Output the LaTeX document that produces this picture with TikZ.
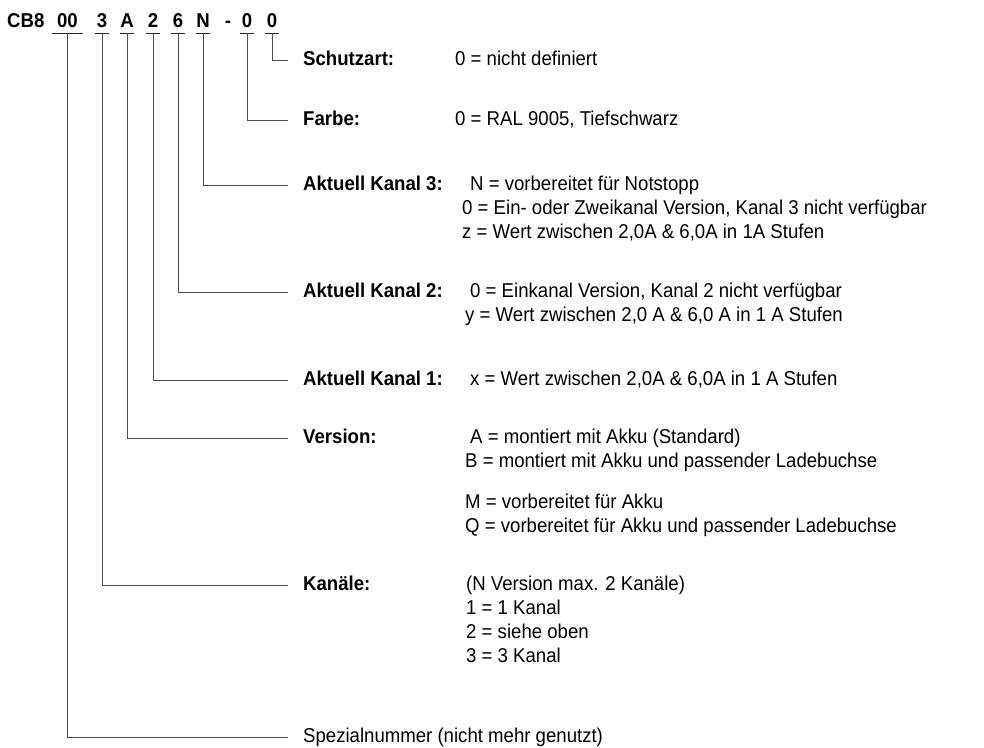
\documentclass[tikz,border=0pt]{standalone}
\usepackage{fontspec}
\setmainfont{Liberation Sans}[FakeStretch=0.93]
\usepackage{tikz}
\usetikzlibrary{positioning,calc}

\begin{document}
\begin{tikzpicture}[x=1pt,y=-1pt,
		code/.style={font=\fontsize{20}{24}\selectfont\bfseries,inner sep=0pt,minimum height=26pt,minimum width=14pt,text height=14pt,text depth=0pt},
		title/.style={font=\fontsize{20}{24}\selectfont\bfseries,anchor=west,inner ysep=0pt,inner xsep=15pt,text height=14pt,text depth=4pt},
		plain/.style={font=\fontsize{20}{24}\selectfont,anchor=west,inner ysep=0pt,inner xsep=15pt,text height=14pt,text depth=4pt},
		val/.style={font=\fontsize{20}{24}\selectfont,anchor=west,inner sep=0pt,text height=14pt,text depth=4pt},
		conn/.style={draw=black!70,line width=0.9pt},
		uline/.style={draw=black!85,line width=1.1pt}]
		\useasboundingbox (0,0) rectangle (984,747);
		%\draw (0,0) grid (984,747);
		% type code
		\node[code,anchor=west] (cb) at (7,20) {CB8};
		\node[code,minimum width=31pt] (c00) at (67.5,20) {00};
		\node[code] (c3) at (102,20) {3};
		\node[code] (cA) at (127,20) {A};
		\node[code] (c2) at (153,20) {2};
		\node[code] (c6) at (178,20) {6};
		\node[code] (cN) at (203,20) {N};
		\node[code] (cdash) at (228,20) {-};
		\node[code] (cF) at (247,20) {0};
		\node[code] (cS) at (272,20) {0};
		\foreach \c in {c00,c3,cA,c2,c6,cN,cF,cS}
			\draw[uline] (\c.south west) -- (\c.south east);
		% headings
		\node[title] (schutz) at (288,60) {Schutzart:};
		\node[title] (farbe) at (288,120) {Farbe:};
		\node[title] (kanal3) at (288,185) {Aktuell Kanal 3:};
		\node[title] (kanal2) at (288,292) {Aktuell Kanal 2:};
		\node[title] (kanal1) at (288,380) {Aktuell Kanal 1:};
		\node[title] (version) at (288,438) {Version:};
		\node[title] (kanaele) at (288,585) {Kanäle:};
		\node[plain] (spezial) at (288,737) {Spezialnummer (nicht mehr genutzt)};
		% values
		\node[val] (s0) at (455,60) {0 = nicht definiert};
		\node[val] (f0) at (455,120) {0 = RAL 9005, Tiefschwarz};
		\node[val] (k3a) at (470,185) {N = vorbereitet für Notstopp};
		\node[val] (k3b) at (462,209) {0 = Ein- oder Zweikanal Version, Kanal 3 nicht verfügbar};
		\node[val] (k3c) at (462,233) {z = Wert zwischen 2,0A \& 6,0A in 1A Stufen};
		\node[val] (k2a) at (470,292) {0 = Einkanal Version, Kanal 2 nicht verfügbar};
		\node[val] (k2b) at (465,316) {y = Wert zwischen 2,0 A \& 6,0 A in 1 A Stufen};
		\node[val] (k1a) at (470,380) {x = Wert zwischen 2,0A \& 6,0A in 1 A Stufen};
		\node[val] (va) at (470,438) {A = montiert mit Akku (Standard)};
		\node[val] (vb) at (465,462) {B = montiert mit Akku und passender Ladebuchse};
		\node[val] (vm) at (465,503) {M = vorbereitet für Akku};
		\node[val] (vq) at (465,527) {Q = vorbereitet für Akku und passender Ladebuchse};
		\node[val] (ka) at (466,585) {(N Version max. 2 Kanäle)};
		\node[val] (kb) at (466,609) {1 = 1 Kanal};
		\node[val] (kc) at (466,633) {2 = siehe oben};
		\node[val] (kd) at (466,657) {3 = 3 Kanal};
		% connectors
		\draw[conn] (cS.south) |- (schutz.west);
		\draw[conn] (cF.south) |- (farbe.west);
		\draw[conn] (cN.south) |- (kanal3.west);
		\draw[conn] (c6.south) |- (kanal2.west);
		\draw[conn] (c2.south) |- (kanal1.west);
		\draw[conn] (cA.south) |- (version.west);
		\draw[conn] (c3.south) |- (kanaele.west);
		\draw[conn] (c00.south) |- (spezial.west);
	\end{tikzpicture}
\end{document}
